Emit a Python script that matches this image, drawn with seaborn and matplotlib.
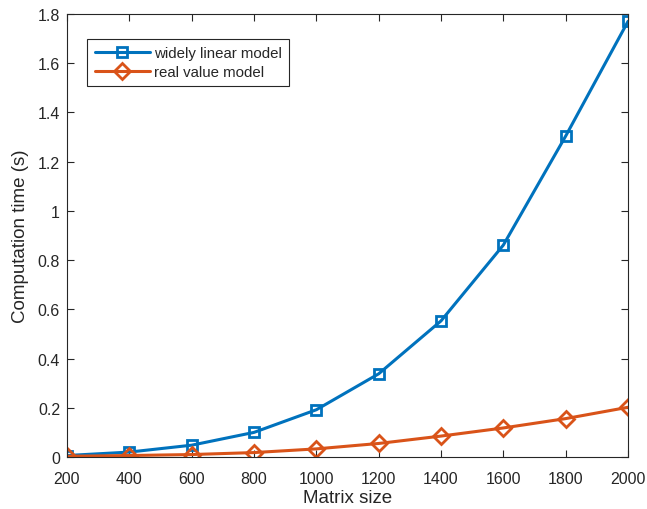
import matplotlib
matplotlib.use("Agg")
import matplotlib.pyplot as plt
import seaborn as sns
import pandas as pd

matrix_size = [200, 400, 600, 800, 1000, 1200, 1400, 1600, 1800, 2000]
widely_linear = [0.006, 0.02, 0.048, 0.10, 0.192, 0.338, 0.553, 0.861, 1.304, 1.77]
real_value = [0.003, 0.006, 0.01, 0.018, 0.033, 0.055, 0.085, 0.118, 0.156, 0.202]
x_ticks = [200, 400, 600, 800, 1000, 1200, 1400, 1600, 1800, 2000]
y_ticks = [0, 0.2, 0.4, 0.6, 0.8, 1.0, 1.2, 1.4, 1.6, 1.8]
y_tick_labels = ["0", "0.2", "0.4", "0.6", "0.8", "1", "1.2", "1.4", "1.6", "1.8"]

sns.set_theme(style="white")
plt.rcParams["font.family"] = ["Liberation Sans", "DejaVu Sans"]

df = pd.DataFrame({
    "size": matrix_size * 2,
    "time": widely_linear + real_value,
    "model": ["widely linear model"] * len(matrix_size) + ["real value model"] * len(matrix_size),
})

fig = plt.figure(figsize=(6.47, 5.10), dpi=100)
ax = fig.add_axes([67 / 647, 52 / 510, 561 / 647, 443 / 510])

palette = {"widely linear model": "#0072BD", "real value model": "#D95319"}
markers = {"widely linear model": "s", "real value model": "D"}
sizes = {"widely linear model": 7, "real value model": 8}
for name in ["widely linear model", "real value model"]:
    sub = df[df["model"] == name]
    sns.lineplot(data=sub, x="size", y="time", ax=ax, color=palette[name],
                 marker=markers[name], markersize=sizes[name],
                 markerfacecolor="none", markeredgecolor=palette[name],
                 markeredgewidth=2, linewidth=2.2, label=name)

ax.set_xlim(200, 2000)
ax.set_ylim(0, 1.8)
ax.set_xticks(x_ticks)
ax.set_yticks(y_ticks)
ax.set_yticklabels(y_tick_labels)
ax.set_xlabel("Matrix size", fontsize=13.5, color="#262626", labelpad=2)
ax.set_ylabel("Computation time (s)", fontsize=13.5, color="#262626", labelpad=6)

for s in ax.spines.values():
    s.set_visible(True)
    s.set_color("#262626")
    s.set_linewidth(0.8)
ax.tick_params(axis="both", which="both", direction="in", length=5, width=0.8,
               colors="#262626", labelsize=11.5, top=True, right=True,
               bottom=True, left=True)
ax.tick_params(axis="x", pad=10)
ax.tick_params(axis="y", pad=5)

leg = ax.legend(loc="upper left", bbox_to_anchor=(0.036, 0.944), fontsize=10.8,
                frameon=True, fancybox=False, framealpha=1, edgecolor="#262626",
                borderpad=0.5, labelspacing=0.3, handlelength=3.7, handletextpad=0.25,
                borderaxespad=0)
leg.get_frame().set_linewidth(0.8)

fig.savefig("out.png", dpi=100)
